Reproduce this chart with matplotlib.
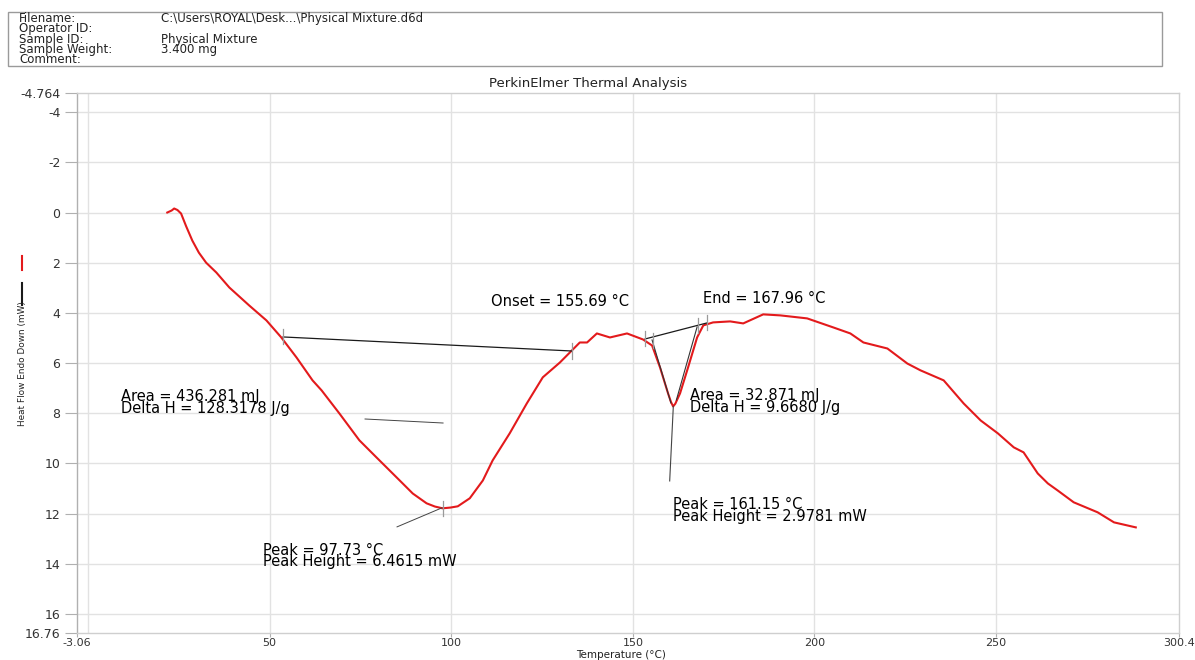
import numpy as np
import matplotlib
matplotlib.use("Agg")
import matplotlib.pyplot as plt
from matplotlib.lines import Line2D
from matplotlib.patches import Rectangle

# DSC trace: temperature (degC) and heat flow (mW, endo down)
temp = [21.8, 23.0, 23.7, 24.6, 25.6, 27.0, 28.7, 30.5, 32.5, 35.3,
        38.9, 44.4, 49.1, 53.2, 57.4, 61.8, 64.3, 69.2, 74.7, 79.4,
        85.8, 89.4, 93.2, 95.5, 97.6, 99.8, 101.8, 105.1, 108.7, 111.4,
        116.1, 120.8, 125.2, 129.9, 133.2, 135.4, 137.4, 140.1, 143.7, 148.4,
        152.8, 155.3, 157.5, 159.7, 160.5, 161.1, 161.7, 163.0, 165.2, 167.7,
        169.4, 172.1, 176.8, 180.4, 185.9, 190.6, 198.0, 205.2, 209.9, 213.5,
        220.1, 225.6, 229.2, 235.6, 241.1, 245.8, 250.5, 254.9, 257.6, 261.5,
        264.3, 267.0, 271.4, 278.0, 282.5, 288.5]
heat_flow = [0.00, -0.08, -0.16, -0.10, 0.04, 0.55, 1.12, 1.60, 2.00, 2.39,
             2.99, 3.71, 4.30, 4.98, 5.78, 6.69, 7.09, 8.01, 9.08, 9.76,
             10.68, 11.20, 11.59, 11.72, 11.79, 11.76, 11.71, 11.39, 10.68, 9.88,
             8.80, 7.61, 6.57, 5.98, 5.50, 5.18, 5.18, 4.82, 4.98, 4.82,
             5.06, 5.30, 6.18, 7.21, 7.55, 7.73, 7.62, 7.21, 6.18, 4.98,
             4.50, 4.38, 4.34, 4.42, 4.06, 4.10, 4.22, 4.58, 4.82, 5.18,
             5.42, 6.02, 6.29, 6.69, 7.61, 8.29, 8.80, 9.36, 9.56, 10.40,
             10.80, 11.08, 11.55, 11.95, 12.35, 12.55]

# peak analysis results
peak1_t, peak1_h = 97.73, 6.4615
peak2_t, peak2_h = 161.15, 2.9781
onset_t, end_t = 155.69, 167.96
area1, dh1 = 436.281, 128.3178
area2, dh2 = 32.871, 9.6680

# baselines and helper lines (temperature, heat flow)
base1_t, base1_hf = [53.67, 133.27], [4.96, 5.52]
base2_t, base2_hf = [153.37, 170.44], [5.04, 4.40]
tan_left_t, tan_left_hf = [155.3, 160.5], [5.08, 7.59]
tan_right_t, tan_right_hf = [167.7, 162.0], [4.56, 7.47]
area_ptr_t, area_ptr_hf = [76.26, 97.74], [8.23, 8.39]
peak_ptr_t, peak_ptr_hf = [85.07, 97.46], [12.53, 11.77]

xticks = [-3.06, 50, 100, 150, 200, 250, 300.4]
xlabels = ["-3.06", "50", "100", "150", "200", "250", "300.4"]
yticks = [-4.764, -4, -2, 0, 2, 4, 6, 8, 10, 12, 14, 16, 16.76]
ylabels = ["-4.764", "-4", "-2", "0", "2", "4", "6", "8", "10", "12", "14", "16", "16.76"]

header_keys = ["Filename:", "Operator ID:", "Sample ID:", "Sample Weight:", "Comment:"]
header_vals = ["C:\\Users\\ROYAL\\Desk...\\Physical Mixture.d6d", "",
               "Physical Mixture", "3.400 mg", ""]

W, H = 1195, 660
fig = plt.figure(figsize=(W / 100, H / 100), dpi=100)
plt.rcParams['font.family'] = ['DejaVu Sans']

# header box
fig.patches.append(Rectangle((8 / W, 1 - 66 / H), (1162 - 8) / W, (66 - 12) / H,
                             transform=fig.transFigure, fill=False,
                             edgecolor="#9a9a9a", lw=1))
fig.text(19 / W, 1 - 39 / H, "\n".join(header_keys), fontsize=8.5,
         va="center", linespacing=0.74, color="#222222")
fig.text(161 / W, 1 - 39 / H, "\n".join(header_vals), fontsize=8.5,
         va="center", linespacing=0.74, color="#222222")

fig.text(588 / W, 1 - 83 / H, "PerkinElmer Thermal Analysis", fontsize=9.5,
         ha="center", va="center", color="#222222")

ax = fig.add_axes([77 / W, 1 - 633 / H, (1179 - 77) / W, (633 - 93) / H])
ax.set_xlim(-3.06, 300.4)
ax.set_ylim(16.76, -4.764)

for s in ax.spines.values():
    s.set_color("#cfcfcf")
    s.set_linewidth(1)
ax.spines["left"].set_color("#b0b0b0")

for g in range(-4, 17, 2):
    ax.axhline(g, color="#e2e2e2", lw=1, zorder=0)
for g in range(0, 251, 50):
    ax.axvline(g, color="#e2e2e2", lw=1, zorder=0)

ax.set_xticks(xticks)
ax.set_xticklabels(xlabels)
ax.set_yticks(yticks)
ax.set_yticklabels(ylabels)
ax.tick_params(axis="y", length=9, width=0.8, color="#b0b0b0", pad=3,
               labelsize=9, labelcolor="#333333")
ax.tick_params(axis="x", length=3, width=0.8, color="#b0b0b0", pad=0.5,
               labelsize=8, labelcolor="#333333")
fig.text(621 / W, 0.5 / H, "Temperature (°C)", fontsize=7.5, ha="center",
         va="bottom", color="#222222")

# red DSC curve
ax.plot(temp, heat_flow, color="#e31a1c", lw=1.5, zorder=3)

# baselines, tangents and pointers
ax.plot(base1_t, base1_hf, color="#1a1a1a", lw=0.9, zorder=4)
ax.plot(base2_t, base2_hf, color="#1a1a1a", lw=0.9, zorder=4)
ax.plot(tan_left_t, tan_left_hf, color="#333333", lw=0.8, zorder=4)
ax.plot(tan_right_t, tan_right_hf, color="#333333", lw=0.8, zorder=4)
ax.plot(area_ptr_t, area_ptr_hf, color="#444444", lw=0.7, zorder=4)
ax.plot(peak_ptr_t, peak_ptr_hf, color="#444444", lw=0.7, zorder=4)

peak2_hf = np.interp(peak2_t, temp, heat_flow)
ax.plot([peak2_t, peak2_t - 1.0], [peak2_hf, peak2_hf + peak2_h],
        color="#444444", lw=0.8, zorder=4)

# small limit marks
marks = [(base1_t[0], base1_hf[0]), (base1_t[1], base1_hf[1]),
         (base2_t[0], base2_hf[0]), (base2_t[1], base2_hf[1]),
         (onset_t, 5.1), (end_t, 4.5),
         (peak1_t, np.interp(peak1_t, temp, heat_flow))]
for mt, mh in marks:
    ax.plot([mt, mt], [mh - 0.3, mh + 0.3], color="#9a9a9a", lw=0.9, zorder=5)

fs = 10.5
ls = 0.74
ax.text(110.9, 3.56, f"Onset = {onset_t:.2f} °C", fontsize=fs, va="center")
ax.text(169.4, 3.44, f"End = {end_t:.2f} °C", fontsize=fs, va="center")
ax.text(9.0, 7.58, f"Area = {area1:.3f} mJ\nDelta H = {dh1:.4f} J/g",
        fontsize=fs, va="center", linespacing=ls)
ax.text(165.8, 7.53, f"Area = {area2:.3f} mJ\nDelta H = {dh2:.4f} J/g",
        fontsize=fs, va="center", linespacing=ls)
ax.text(161.1, 11.89, f"Peak = {peak2_t:.2f} °C\nPeak Height = {peak2_h:.4f} mW",
        fontsize=fs, va="center", linespacing=ls)
ax.text(48.2, 13.69, f"Peak = {peak1_t:.2f} °C\nPeak Height = {peak1_h:.4f} mW",
        fontsize=fs, va="center", linespacing=ls)

# y label with curve legend marks
fig.text(23 / W, 1 - 364 / H, "Heat Flow Endo Down (mW)", rotation=90,
         fontsize=6.4, ha="center", va="center", color="#222222")
fig.add_artist(Line2D([22 / W, 22 / W], [1 - 256 / H, 1 - 270 / H],
                      color="#e31a1c", lw=1.5, transform=fig.transFigure))
fig.add_artist(Line2D([22 / W, 22 / W], [1 - 283 / H, 1 - 305 / H],
                      color="#1a1a1a", lw=1.5, transform=fig.transFigure))

fig.savefig("out.png", dpi=100)
